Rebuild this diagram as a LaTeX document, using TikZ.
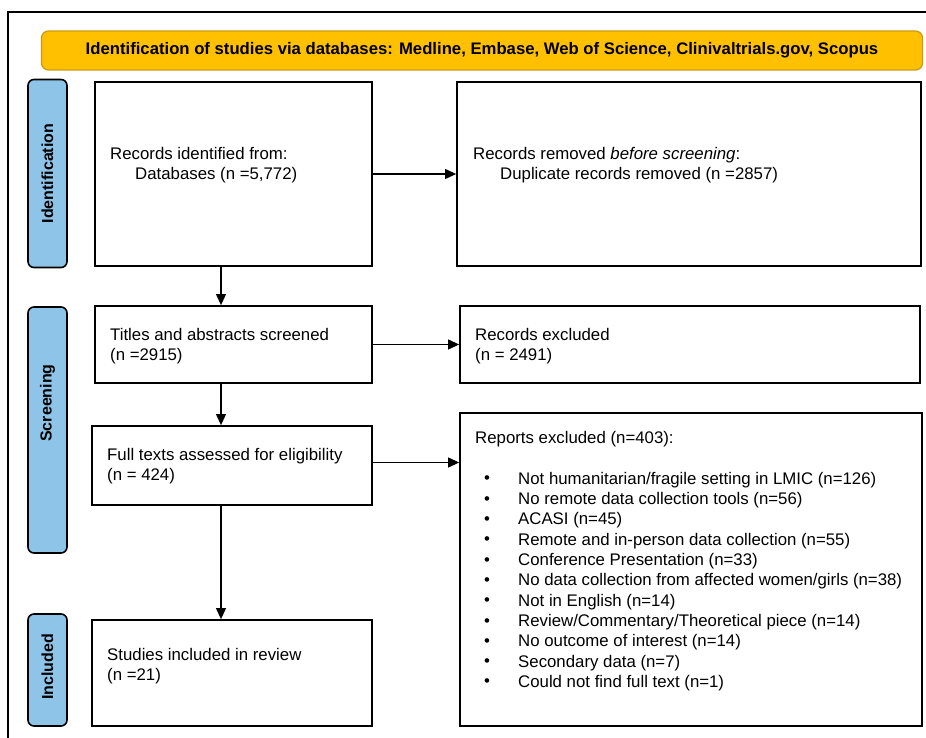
\documentclass[tikz,border=0pt]{standalone}
\usepackage{fontspec}
\setmainfont{Liberation Sans}
\usetikzlibrary{arrows.meta}
\definecolor{bannergold}{RGB}{255,192,0}
\definecolor{bannerline}{RGB}{205,155,20}
\definecolor{phaseblue}{RGB}{141,196,232}
\tikzset{
  box/.style={draw, line width=1.8pt, inner sep=0pt},
  phase/.style={draw, line width=1.6pt, rounded corners=6pt, fill=phaseblue, inner sep=0pt,
    minimum width=39pt},
  phasetxt/.style={rotate=90, inner sep=0pt, font=\fontsize{16}{19}\selectfont\bfseries},
  txt/.style={anchor=west, align=left, inner sep=0pt, font=\fontsize{16.8}{20.3}\selectfont},
  arr/.style={-{Triangle[length=11pt,width=10pt]}, line width=1.1pt},
}

\begin{document}
\begin{tikzpicture}[x=1pt,y=-1pt]
    \useasboundingbox (0,0) rectangle (926,738);
    % Outer frame (cut at right and bottom)
    \draw[line width=1.2pt] (8,738) -- (8,12) -- (926,12);
    % Banner
    \node[draw=bannerline, line width=1.3pt, fill=bannergold, rounded corners=7pt,
      minimum width=881pt, minimum height=39pt, inner sep=0pt,
      font=\fontsize{16.7}{19}\selectfont\bfseries] (banner) at (482,50.5)
      {Identification of studies via databases: Medline, Embase, Web of Science, Clinivaltrials.gov, Scopus};
    % Phase labels
    \node[phase, minimum height=188pt] (idphase) at (47.5,173.5) {};
    \node[phase, minimum height=246pt] (scphase) at (47.5,430) {};
    \node[phase, minimum height=112pt] (inphase) at (47.5,670) {};
    \node[phasetxt] (idlbl) at (idphase.center) {Identification};
    \node[phasetxt] (sclbl) at ([yshift=27pt]scphase.center) {Screening};
    \node[phasetxt] (inlbl) at ([yshift=3pt]inphase.center) {Included};
    % Boxes
    \node[box, minimum width=277pt, minimum height=184pt] (recid) at (233.5,174) {};
    \node[box, minimum width=464pt, minimum height=184pt] (removed) at (689,174) {};
    \node[box, minimum width=277pt, minimum height=77pt] (titles) at (233.5,344.5) {};
    \node[box, minimum width=460pt, minimum height=77pt] (recexcl) at (690,344.5) {};
    \node[box, minimum width=280pt, minimum height=79pt] (fulltext) at (232,465.5) {};
    \node[box, minimum width=462pt, minimum height=313pt] (repexcl) at (691,569.5) {};
    \node[box, minimum width=280pt, minimum height=106pt] (incl) at (232,673) {};
    % Box texts
    \node[txt] (recidtxt) at (110,165.5) {Records identified from:\\\hspace*{25pt}Databases (n =5,772)};
    \node[txt] (removedtxt) at (473,165.5) {Records removed \emph{before screening}:\\\hspace*{27pt}Duplicate records removed (n =2857)};
    \node[txt] (titlestxt) at (110,346.5) {Titles and abstracts screened\\(n =2915)};
    \node[txt] (recexcltxt) at (475,346.5) {Records excluded\\(n = 2491)};
    \node[txt] (fulltexttxt) at (107,466) {Full texts assessed for eligibility\\(n = 424)};
    \node[txt] (incltxt) at (107,666) {Studies included in review\\(n =21)};
    \node[txt] (repexcltxt) at (475,439) {Reports excluded (n=403):};
    \foreach \reason [count=\i from 0] in {Not humanitarian/fragile setting in LMIC (n=126),
      No remote data collection tools (n=56), ACASI (n=45),
      Remote and in-person data collection (n=55), Conference Presentation (n=33),
      No data collection from affected women/girls (n=38), Not in English (n=14),
      Review/Commentary/Theoretical piece (n=14), No outcome of interest (n=14),
      Secondary data (n=7), Could not find full text (n=1)} {
      \node[txt] (bul\i) at (484,480+20.3*\i) {\textbullet};
      \node[txt] (rsn\i) at (518,480+20.3*\i) {\reason};
    }
    % Arrows
    \coordinate (down) at (221,0);
    \draw[arr] (recid.east) -- (recid.east -| removed.west);
    \draw[arr] (titles.east) -- (titles.east -| recexcl.west);
    \draw[arr] ([yshift=3pt]fulltext.east) -- ([yshift=3pt]fulltext.east -| repexcl.west);
    \draw[arr] (recid.south -| down) -- (titles.north -| down);
    \draw[arr] (titles.south -| down) -- (fulltext.north -| down);
    \draw[arr] (fulltext.south -| down) -- (incl.north -| down);
\end{tikzpicture}
\end{document}
